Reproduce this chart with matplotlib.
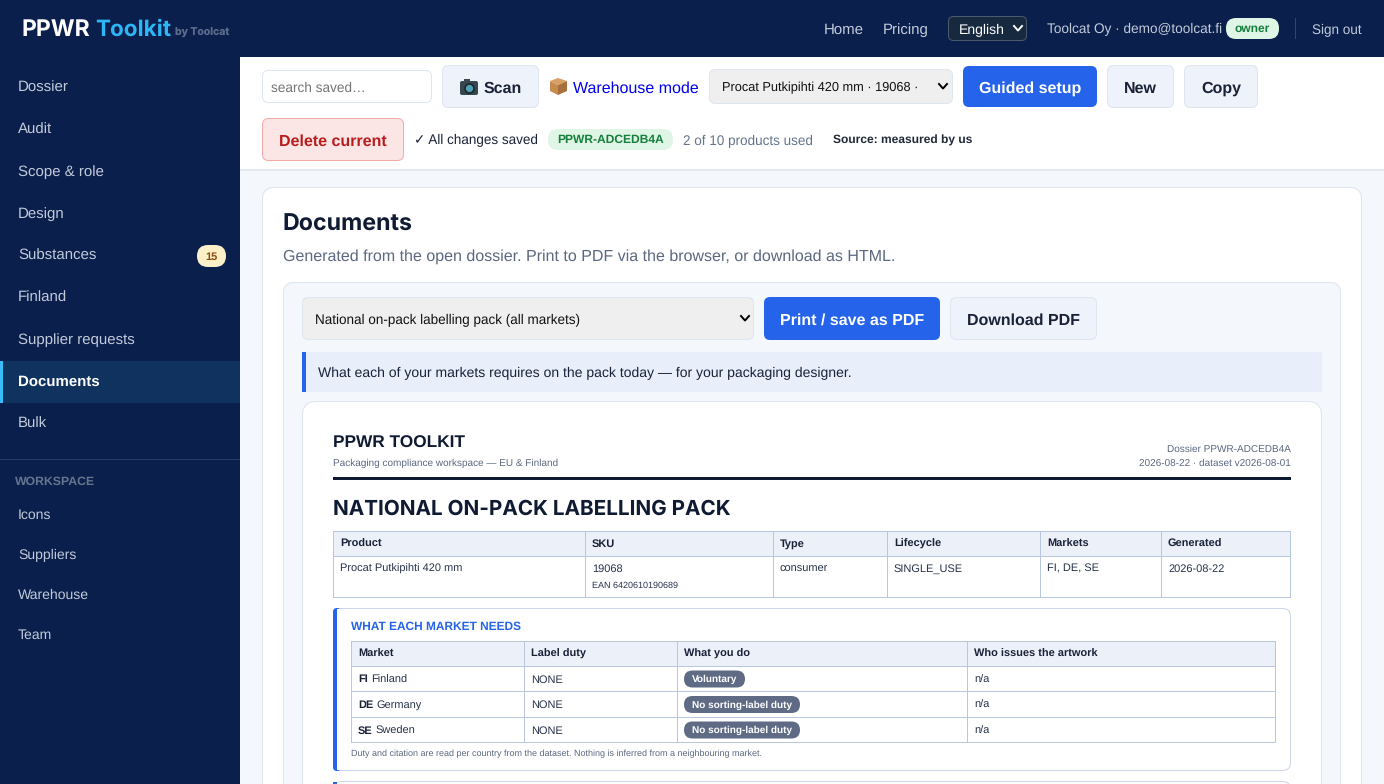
import matplotlib
matplotlib.use("Agg")
import matplotlib.pyplot as plt
from matplotlib.patches import FancyBboxPatch, Rectangle, Polygon

plt.rcParams["text.hinting"] = "no_hinting"

W, H = 1384, 784

# sidebar
nav_items = ["Dossier", "Audit", "Scope & role", "Design", "Substances", "Finland",
             "Supplier requests", "Documents", "Bulk"]
nav_active = "Documents"
workspace_items = ["Icons", "Suppliers", "Warehouse", "Team"]

# top tables
product_headers = ["Product", "SKU", "Type", "Lifecycle", "Markets", "Generated"]
product_row = ["Procat Putkipihti 420 mm", "19068", "consumer", "SINGLE_USE", "FI, DE, SE", "2026-08-22"]
product_ean = "EAN 6420610190689"

market_headers = ["Market", "Label duty", "What you do", "Who issues the artwork"]
market_codes = ["FI", "DE", "SE"]
market_names = ["Finland", "Germany", "Sweden"]
market_duty = ["NONE", "NONE", "NONE"]
market_action = ["Voluntary", "No sorting-label duty", "No sorting-label duty"]
market_artwork = ["n/a", "n/a", "n/a"]

# colours
NAVY = "#0a1f4b"
BLUE = "#2563eb"
INK = "#0f1b33"
GREY = "#5b6880"
LINE = "#b8c6de"
SOFT = "#dde5f0"
THIN = 0.72  # one pixel at this dpi

BODY = ["Liberation Sans", "DejaVu Sans"]
HEAD = ["Inter", "Liberation Sans"]

fig = plt.figure(figsize=(W / 100, H / 100), dpi=100)
ax = fig.add_axes([0, 0, 1, 1])
ax.set_xlim(0, W)
ax.set_ylim(H, 0)
ax.axis("off")


def box(x0, y0, x1, y1, fc, ec="none", r=0, lw=THIN, z=1):
    if r:
        p = FancyBboxPatch((x0, y0), x1 - x0, y1 - y0, boxstyle=f"round,pad=0,rounding_size={r}",
                           fc=fc, ec=ec, lw=lw, zorder=z)
    else:
        p = Rectangle((x0, y0), x1 - x0, y1 - y0, fc=fc, ec=ec, lw=lw, zorder=z)
    ax.add_patch(p)
    return p


def txt(x, yc, s, px, color=INK, bold=False, ha="left", family=None):
    # yc is the middle of the capitals, in pixels
    ax.text(x, yc + 0.36 * px, s, fontsize=px * 0.72, color=color, ha=ha, va="baseline",
            fontweight="bold" if bold else "normal", family=family or BODY, zorder=6)


def chevron(x, y, color="black", z=6):
    ax.plot([x - 4, x, x + 4], [y - 2, y + 2.5, y - 2], color=color, lw=1.4, zorder=z)


# backgrounds
box(0, 0, W, H, "#f4f7fc", z=0)
box(0, 0, W, 57, NAVY)
box(0, 57, 240, H, NAVY)
box(240, 57, W, 169, "white")
box(240, 169, W, 170.5, "#e4e9f3")

# header
txt(21.5, 28, "PPWR", 23, "white", True, family=HEAD)
txt(95, 28, "Toolkit", 22.5, "#2fb4f5", True, family=HEAD)
txt(175, 32, "by Toolcat", 10.5, "#5c6c8c", True, family=HEAD)
txt(824, 28, "Home", 15, "#c2cbdb")
txt(883, 28, "Pricing", 15, "#c2cbdb")
box(948.5, 16.5, 1026.5, 40.5, "#17293f", "#4b5a6c", r=5)
txt(959, 29, "English", 14, "white")
chevron(1018, 28, "white")
txt(1047, 28, "Toolcat Oy · demo@toolcat.fi", 13.6, "#c2cbdb")
box(1226, 18, 1279, 39, "#dff5e5", r=10)
txt(1252.5, 28, "owner", 12, "#15803d", True, ha="center")
box(1295, 18, 1296, 39, "#33456e", z=3)
txt(1312, 29, "Sign out", 13.5, "#c2cbdb")

# sidebar
for i, item in enumerate(nav_items):
    yc = 86.6 + 42 * i
    if item == nav_active:
        box(0, 361, 240, 403, "#10325f", z=2)
        box(0, 361, 3, 403, "#38bdf8", z=3)
        txt(18, yc, item, 15, "white", True)
    else:
        txt(18, yc, item, 15, "#c2cbdb")
box(197, 245, 226, 267, "#fdf0c8", r=11, z=3)
txt(211.5, 255.5, "15", 11, "#8a4b0f", True, ha="center")
box(0, 459, 240, 460, "#2a3b66", z=3)
txt(15, 480, "WORKSPACE", 12.3, "#66758f", True)
for i, item in enumerate(workspace_items):
    txt(18, 514 + 40 * i, item, 14, "#c2cbdb")

# toolbar
box(262.5, 70.5, 431.5, 102.5, "white", SOFT, r=6)
txt(271, 87, "search saved…", 13.6, "#757575")
box(442.5, 65.5, 538.5, 107.5, "#eef2fa", SOFT, r=6)
# camera icon
box(460, 81, 478, 95, "#37474f", r=2, z=4)
box(464, 79, 470, 82, "#37474f", z=4)
ax.scatter([469], [88], s=42, color="#4f9fb5", edgecolors="#1c262b", linewidths=1.2, zorder=5)
txt(484, 87, "Scan", 16, "#1a2238", True)
# box icon
ax.add_patch(Polygon([[550, 81], [558, 78], [567, 81], [558, 85]], fc="#d9a066", zorder=4))
ax.add_patch(Polygon([[550, 81], [558, 85], [558, 95], [550, 91]], fc="#c58b4f", zorder=4))
ax.add_patch(Polygon([[558, 85], [567, 81], [567, 91], [558, 95]], fc="#a8703a", zorder=4))
txt(573, 87, "Warehouse mode", 16, "#0000ee")
box(709.5, 69.5, 952.5, 103.5, "#efefef", SOFT, r=6)
txt(722, 87, "Procat Putkipihti 420 mm · 19068 ·", 12.8, "#111111")
chevron(943, 86)
box(963, 66, 1097, 107, BLUE, r=6)
txt(1030, 87, "Guided setup", 16, "white", True, ha="center")
box(1107.5, 65.5, 1173.5, 107.5, "#eef2fa", SOFT, r=6)
txt(1140.5, 87, "New", 16, "#1a2238", True, ha="center")
box(1184.5, 65.5, 1257.5, 107.5, "#eef2fa", SOFT, r=6)
txt(1221, 87, "Copy", 16, "#1a2238", True, ha="center")
box(262.5, 118.5, 403.5, 160.5, "#fce5e5", "#f5aaaa", r=6)
txt(333, 140, "Delete current", 16, "#b91c1c", True, ha="center")
txt(414, 139.7, "✓ All changes saved", 13.5, "#1a2238")
box(548, 129, 673, 150, "#dff5e5", r=10)
txt(610.5, 139, "PPWR-ADCEDB4A", 12, "#15803d", True, ha="center")
txt(683, 140, "2 of 10 products used", 13.5, "#64748b")
txt(833, 139, "Source: measured by us", 12, "#1f2937", True)

# card
box(262.5, 187.5, 1361.5, H + 30, "white", SOFT, r=12)
txt(282.5, 222.5, "Documents", 23.2, INK, True, family=HEAD)
txt(283, 255, "Generated from the open dossier. Print to PDF via the browser, or download as HTML.", 16, GREY)

box(283.5, 282.5, 1340.5, H + 30, "#f4f7fc", SOFT, r=10, z=2)
box(302.5, 297.5, 753.5, 339.5, "#efefef", SOFT, r=6, z=3)
txt(315, 319, "National on-pack labelling pack (all markets)", 13.5, "#111111")
chevron(745, 318)
box(764, 297, 940, 340, BLUE, r=6, z=3)
txt(852, 319, "Print / save as PDF", 16, "white", True, ha="center")
box(950.5, 297.5, 1096.5, 339.5, "#eef2fa", SOFT, r=6, z=3)
txt(1023.5, 319, "Download PDF", 16, "#1a2238", True, ha="center")
box(302, 352, 1322, 392, "#e8effb", z=3)
box(302, 352, 306, 392, BLUE, z=3)
txt(318, 372, "What each of your markets requires on the pack today — for your packaging designer.", 14.05, "#1a2238")

# printed document
box(302.5, 401.5, 1321.5, H + 30, "white", SOFT, r=14, z=3)
txt(333, 442, "PPWR TOOLKIT", 17.2, INK, True)
txt(333, 462, "Packaging compliance workspace — EU & Finland", 10, GREY)
txt(1291, 448, "Dossier PPWR-ADCEDB4A", 10, GREY, ha="right")
txt(1291, 462, "2026-08-22 · dataset v2026-08-01", 10, GREY, ha="right")
box(333, 477, 1291, 480, INK, z=4)
txt(333, 507, "NATIONAL ON-PACK LABELLING PACK", 20.7, INK, True, family=HEAD)


def grid(xs, ys):
    box(xs[0], ys[0], xs[-1], ys[1], "#ebf0f9", z=4)
    for x in xs:
        box(x, ys[0], x + 1, ys[-1] + 1, LINE, z=5)
    for y in ys:
        box(xs[0], y, xs[-1] + 1, y + 1, LINE, z=5)


# product table
px = [333, 585, 773, 887, 1040, 1161, 1290]
py = [531, 556, 597]
grid(px, py)
for x, head, val in zip(px, product_headers, product_row):
    txt(x + 7, 543, head, 11, "#1a2238", True)
    txt(x + 7, 568, val, 11, "#26324a")
txt(px[1] + 7, 585, product_ean, 9, "#26324a")

# market section
box(333.5, 608.5, 1290.5, H - 13.5, "white", "#ccd6e8", r=8, z=3)
box(333, 608, 341, 771, BLUE, r=4, z=4)
box(337, 609, 345, 770, "white", z=4)
txt(351, 626, "WHAT EACH MARKET NEEDS", 11.9, BLUE, True)

mx = [351, 524, 677, 967, 1275]
my = [641, 666, 691, 717, 742]
name_x = [371, 376, 375]
pill_right = [745, 800, 800]
grid(mx, my)
for x, head in zip(mx, market_headers):
    txt(x + 7, 653, head, 11, "#1a2238", True)
for i in range(3):
    yc = (my[i + 1] + my[i + 2]) / 2 + 0.5
    txt(mx[0] + 7, yc - 0.5, market_codes[i], 11, "#1a2238", True)
    txt(name_x[i], yc - 0.5, market_names[i], 11, "#26324a")
    txt(mx[1] + 7, yc - 0.5, market_duty[i], 11, "#26324a")
    box(684, yc - 8.5, pill_right[i], yc + 8.5, "#5f6b85", r=8.5, z=5)
    txt((684 + pill_right[i]) / 2, yc - 0.5, market_action[i], 10, "white", True, ha="center")
    txt(mx[3] + 7, yc - 0.5, market_artwork[i], 11, "#26324a")
txt(351, 753, "Duty and citation are read per country from the dataset. Nothing is inferred from a neighbouring market.", 9, GREY)

# next section, cut off by the window
box(333.5, 781.5, 1290.5, H + 30, "white", "#ccd6e8", r=8, z=3)
box(333, 782, 337, H + 30, BLUE, z=4)

fig.savefig("out.png", dpi=100)
